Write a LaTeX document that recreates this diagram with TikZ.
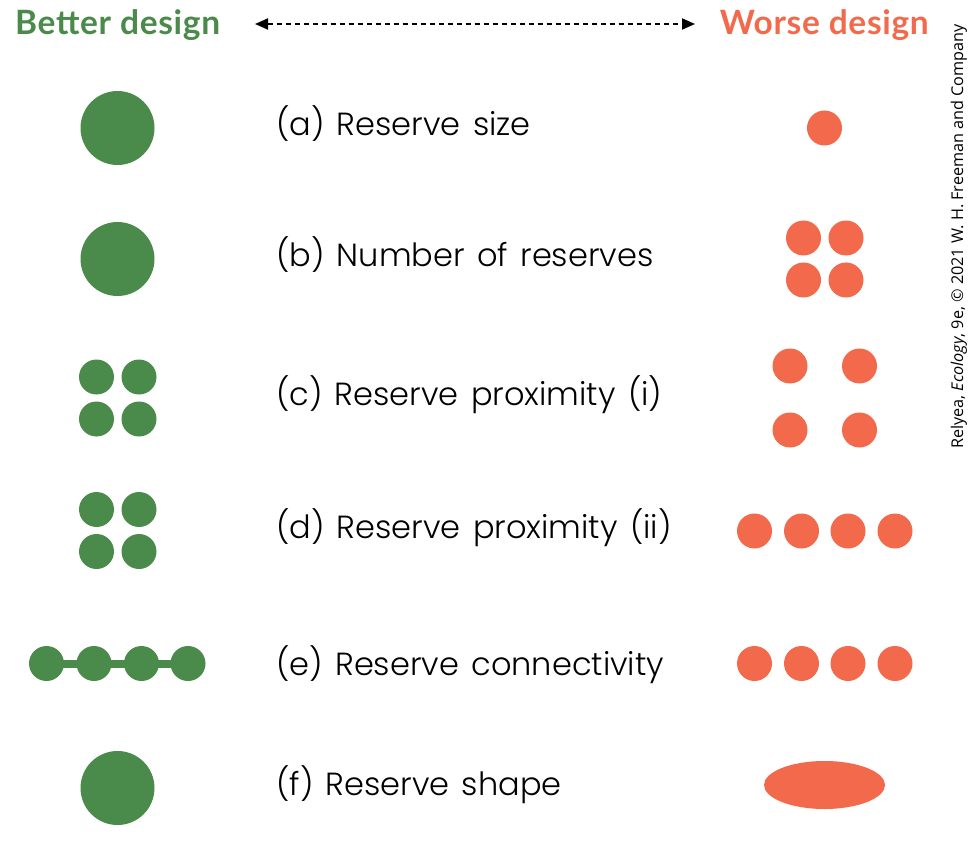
\documentclass[tikz,border=0pt]{standalone}
\usepackage{fontspec}
\setmainfont{Lato}
\newfontfamily\bodyfont{Poppins Light}[WordSpace=1.4]
\newfontfamily\headfont{Lato}[LetterSpace=2]
\newfontfamily\credfont{Open Sans}
\usetikzlibrary{arrows.meta,backgrounds,shapes.geometric}
\definecolor{goodgreen}{RGB}{74,138,74}
\definecolor{badorange}{RGB}{242,106,75}
\tikzset{
  gdot/.style={circle,fill=goodgreen,draw=none,inner sep=0pt,minimum size=#1},
  odot/.style={circle,fill=badorange,draw=none,inner sep=0pt,minimum size=#1},
  rowlabel/.style={anchor=base west,inner sep=0pt,font=\bodyfont\fontsize{32}{36}\selectfont},
  headlabel/.style={inner sep=0pt,font=\headfont\fontsize{33.5}{38}\selectfont\bfseries},
  gbar/.style={draw=goodgreen,line width=8pt},
  scalearrow/.style={line width=1.8pt,dash pattern=on 5pt off 4pt,{Triangle[length=13pt,width=11pt]}-{Triangle[length=13pt,width=11pt]}}
}
\begin{document}
\begin{tikzpicture}[x=1pt,y=-1pt]
\useasboundingbox (0,0) rectangle (980,850);
% header
\node[headlabel,anchor=base west,text=goodgreen] (better) at (15,35) {Better design};
\node[headlabel,anchor=base east,text=badorange] (worse) at (929,35) {Worse design};
\coordinate (arrL) at (255,24);
\coordinate (arrR) at (695,24);
\draw[scalearrow] (arrL) -- (arrR);
% credit
\node[anchor=base west,rotate=90,inner sep=0pt,font=\credfont\fontsize{16.2}{20}\selectfont] (credit) at (963,449) {Relyea, \textit{Ecology}, 9e, \textcopyright{} 2021 W. H. Freeman and Company};
% row labels
\node[rowlabel] (la) at (276,136) {(a) Reserve size};
\node[rowlabel] (lb) at (276,267) {(b) Number of reserves};
\node[rowlabel] (lc) at (276,405) {(c) Reserve proximity (i)};
\node[rowlabel] (ld) at (276,538) {(d) Reserve proximity (ii)};
\node[rowlabel] (le) at (276,675) {(e) Reserve connectivity};
\node[rowlabel] (lf) at (276,795) {(f) Reserve shape};
% (a)
\node[gdot=74pt] (ga) at (117.5,128) {};
\node[odot=35pt] (oa) at (824.5,128) {};
% (b)
\node[gdot=74pt] (gb) at (117.5,259) {};
\node[odot=35pt] (ob1) at (803.5,238) {};
\node[odot=35pt] (ob2) at (846,238) {};
\node[odot=35pt] (ob3) at (803.5,280) {};
\node[odot=35pt] (ob4) at (846,280) {};
% (c)
\node[gdot=35pt] (gc1) at (96.5,377) {};
\node[gdot=35pt] (gc2) at (139,377) {};
\node[gdot=35pt] (gc3) at (96.5,419) {};
\node[gdot=35pt] (gc4) at (139,419) {};
\node[odot=35pt] (oc1) at (790,366) {};
\node[odot=35pt] (oc2) at (859.5,366) {};
\node[odot=35pt] (oc3) at (790,430) {};
\node[odot=35pt] (oc4) at (859.5,430) {};
% (d)
\node[gdot=35pt] (gd1) at (96.5,509.5) {};
\node[gdot=35pt] (gd2) at (139,509.5) {};
\node[gdot=35pt] (gd3) at (96.5,551.5) {};
\node[gdot=35pt] (gd4) at (139,551.5) {};
\node[odot=35pt] (od1) at (754.5,531) {};
\node[odot=35pt] (od2) at (801.5,531) {};
\node[odot=35pt] (od3) at (848,531) {};
\node[odot=35pt] (od4) at (895,531) {};
% (e)
\node[gdot=35pt] (ge1) at (46.5,663.5) {};
\node[gdot=35pt] (ge2) at (94,663.5) {};
\node[gdot=35pt] (ge3) at (141.5,663.5) {};
\node[gdot=35pt] (ge4) at (188,663.5) {};
\begin{scope}[on background layer]
\draw[gbar] (ge1.center) -- (ge4.center);
\end{scope}
\node[odot=35pt] (oe1) at (754.5,663.5) {};
\node[odot=35pt] (oe2) at (801.5,663.5) {};
\node[odot=35pt] (oe3) at (848,663.5) {};
\node[odot=35pt] (oe4) at (895,663.5) {};
% (f)
\node[gdot=74pt] (gf) at (117.5,788) {};
\node[ellipse,fill=badorange,draw=none,inner sep=0pt,minimum width=121pt,minimum height=48pt] (of) at (824.5,785) {};
\end{tikzpicture}
\end{document}
